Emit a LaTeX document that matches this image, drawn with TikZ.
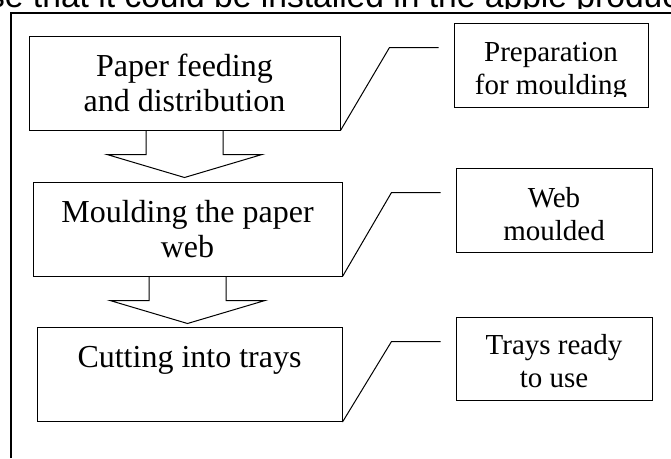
\documentclass[tikz,border=0pt]{standalone}
\usepackage{fontspec}
\setmainfont{Liberation Serif}
\newfontfamily\bodysans{Liberation Sans}
\usepackage{tikz}
\usetikzlibrary{calc}

\begin{document}
\begin{tikzpicture}[
  x=1pt, y=-1pt,
  stepbox/.style={draw, line width=1pt, inner sep=0pt, align=center, minimum height=94pt,
    font=\fontsize{32}{35}\selectfont},
  resultbox/.style={draw, line width=1pt, inner sep=0pt, minimum width=196pt, minimum height=84pt},
  resulttext/.style={inner sep=0pt, align=center, font=\fontsize{29}{33}\selectfont},
  link/.style={draw, line width=1pt}
]
\useasboundingbox (0,0) rectangle (671,458);

% end of the sentence above the figure
\begin{scope}
  \clip (0,0) rectangle (671,8.5);
  \node[anchor=base west, inner sep=0pt, font=\bodysans\fontsize{33.6}{40}\selectfont] (sentence) at (-12,7)
    {se that it could be installed in the apple produc};
\end{scope}

% frame
\draw[line width=1.3pt] (11,458) -- (11,13) -- (671,13);

% process steps
\node[stepbox, minimum width=311pt] (feed) at (184.5,83) {Paper feeding\\and distribution};
\node[stepbox, minimum width=309pt] (mould) at (187.5,229) {Moulding the paper\\web};
\node[stepbox, minimum width=305pt] (cut) at (189.5,374.5) {Cutting into trays\\\mbox{}};

% results
\node[resultbox, minimum width=194pt] (prep) at (551,65) {};
\node[resultbox] (moulded) at (554,210) {};
\node[resultbox, minimum height=83pt] (ready) at (554,358.5) {};

\begin{scope}
  \clip (prep.north west) rectangle ([yshift=11pt]prep.south east);
  \node[resulttext] (preptext) at ([yshift=-6.5pt]prep.center) {Preparation\\for moulding};
\end{scope}
\node[resulttext] (mouldedtext) at ([yshift=-4pt]moulded.center) {Web\\moulded};
\node[resulttext] (readytext) at ([yshift=-3pt]ready.center) {Trays ready\\to use};

% block arrows between the steps
\foreach \a in {feed,mould}
  \draw[line width=1pt] ($(\a.south)+(-38.5,0)$) -- ++(0,24) -- ++(-39,0) -- ++(77.5,23)
    -- ++(77.5,-23) -- ++(-39,0) -- ++(0,-24);

% leader lines
\foreach \a/\b in {feed/prep, mould/moulded, cut/ready}
  \draw[link] (\a.south east) -- ($(\b.north west)+(-64,25)$) -- ($(\b.north west)+(-15,25)$);
\end{tikzpicture}
\end{document}
